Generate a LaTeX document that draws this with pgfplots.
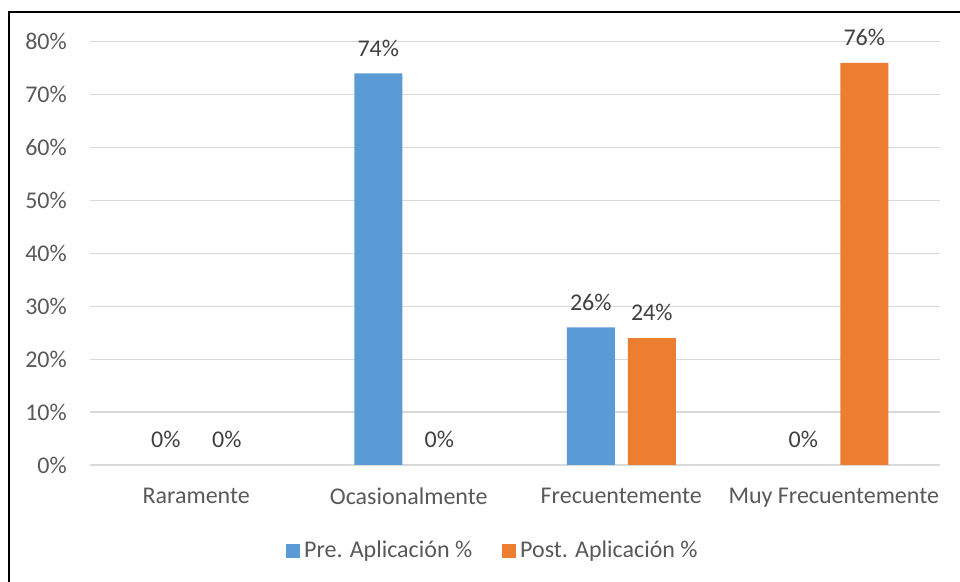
\documentclass[border=0pt]{standalone}
\usepackage{fontspec}
\setmainfont{Carlito}
\usepackage{pgfplots}
\pgfplotsset{compat=1.18}
\definecolor{preblue}{HTML}{5B9BD5}
\definecolor{postorange}{HTML}{ED7D31}
\definecolor{labelgray}{HTML}{595959}
\definecolor{valgray}{HTML}{404040}
\definecolor{gridgray}{HTML}{D9D9D9}

\begin{document}
\fontsize{24bp}{29bp}\selectfont
\begin{tikzpicture}
  % page frame
  \path[use as bounding box] (0bp,0bp) rectangle (960bp,582bp);
  \draw[line width=1.6bp, black] (9bp,-10bp) -- (9bp,570bp) -- (970bp,570bp);
  \begin{axis}[
    at={(90bp,117bp)}, anchor=south west,
    scale only axis, width=850bp, height=423.3bp,
    xmin=-0.5, xmax=3.5, ymin=0, ymax=80,
    axis lines=left, axis line style={draw=none},
    major tick length=0pt,
    xtick={0,1,2,3},
    xticklabels={Raramente, Ocasionalmente, Frecuentemente, Muy Frecuentemente},
    ytick={0,10,...,80},
    yticklabel={\pgfmathprintnumber{\tick}\%},
    /pgf/number format/assume math mode=true,
    ymajorgrids, grid style={gridgray, line width=1.3bp},
    tick label style={text=labelgray},
    yticklabel style={xshift=-15bp},
    xticklabel style={yshift=-15bp},
    ybar=13bp, bar width=48bp,
    nodes near coords={\pgfmathprintnumber{\pgfplotspointmeta}\%},
    nodes near coords style={text=valgray, inner sep=0pt, yshift=17bp},
    legend style={at={(0.474,-0.203)}, anchor=center, draw=none,
      text=labelgray, legend columns=-1,
      /tikz/every odd column/.append style={column sep=2bp},
      /tikz/every even column/.append style={column sep=28bp}},
    legend image code/.code={\fill[#1, draw=none] (0bp,-7bp) rectangle (14bp,7bp);},
  ]
    \addplot[fill=preblue, draw=none] coordinates {(0,0) (1,74) (2,26) (3,0)};
    \addplot[fill=postorange, draw=none] coordinates {(0,0) (1,0) (2,24) (3,76)};
    \legend{Pre. Aplicación \%, Post. Aplicación \%}
  \end{axis}
\end{tikzpicture}
\end{document}
